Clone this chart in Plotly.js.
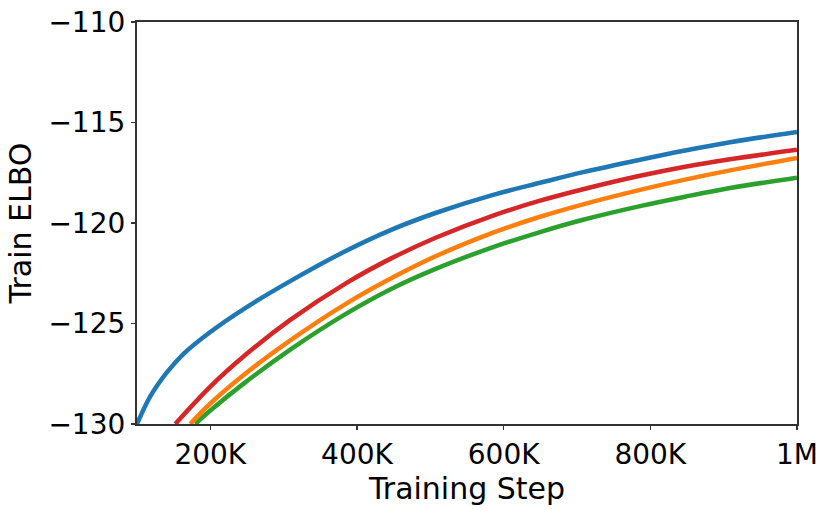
<!DOCTYPE html>
<html><head><meta charset="utf-8">
<script src="https://cdn.plot.ly/plotly-3.0.1.min.js"></script>
<style>html,body{margin:0;padding:0;background:#fff;}#chart{width:831px;height:509px;}</style>
</head><body><div id="chart"></div>
<script>
// Training step (thousands) and Train ELBO values
const blueX = [100, 118.1, 139.9, 163.1, 200, 247.6, 309, 385.3, 446.6, 508, 585.6, 649.7, 708.3, 786, 847.4, 908.7, 1000];
const blueY = [-130.0, -128.63, -127.47, -126.52, -125.42, -124.23, -122.89, -121.38, -120.34, -119.49, -118.60, -118.00, -117.47, -116.85, -116.39, -115.98, -115.47];

const redX = [152.2, 200, 247.6, 309, 385.3, 446.6, 508, 585.6, 649.7, 708.3, 786, 847.4, 908.7, 1000];
const redY = [-130.0, -128.14, -126.57, -124.82, -122.99, -121.76, -120.72, -119.63, -118.89, -118.32, -117.65, -117.20, -116.83, -116.36];

const orangeX = [172.6, 200, 247.6, 309, 385.3, 446.6, 508, 585.6, 649.7, 708.3, 786, 847.4, 908.7, 1000];
const orangeY = [-130.0, -128.98, -127.50, -125.84, -124.01, -122.75, -121.64, -120.48, -119.69, -119.07, -118.35, -117.84, -117.38, -116.76];

const greenX = [179.5, 200, 247.6, 309, 385.3, 446.6, 508, 585.6, 649.7, 708.3, 786, 847.4, 908.7, 1000];
const greenY = [-130.0, -129.33, -127.93, -126.30, -124.51, -123.28, -122.27, -121.20, -120.45, -119.84, -119.16, -118.69, -118.26, -117.75];

const xTickVals = [200, 400, 600, 800, 1000];
const xTickText = ['200K', '400K', '600K', '800K', '1M'];
const yTickVals = [-130, -125, -120, -115, -110];

const colors = {blue: '#1f77b4', red: '#d62728', orange: '#ff7f0e', green: '#2ca02c'};

function tr(x, y, c) {
  return {x: x, y: y, type: 'scatter', mode: 'lines',
    line: {color: c, width: 4.5, shape: 'spline', smoothing: 1}, hoverinfo: 'skip'};
}

const data = [
  tr(greenX, greenY, colors.green),
  tr(orangeX, orangeY, colors.orange),
  tr(redX, redY, colors.red),
  tr(blueX, blueY, colors.blue)
];

const axisCol = 'rgb(50,50,50)';
const tickFont = {family: 'DejaVu Sans', size: 28, color: '#000'};
const titleFont = {family: 'DejaVu Sans', size: 30, color: '#000'};

const layout = {
  width: 831, height: 509,
  margin: {l: 136.7, r: 34, t: 22, b: 84.7, pad: 0},
  paper_bgcolor: '#fff', plot_bgcolor: '#fff',
  showlegend: false,
  font: tickFont,
  xaxis: {
    range: [100, 1000], tickvals: xTickVals, ticktext: xTickText,
    showgrid: false, zeroline: false, showline: true, mirror: true,
    linecolor: axisCol, linewidth: 1.6,
    ticks: 'outside', ticklen: 4.5, tickwidth: 1.3, tickcolor: axisCol,
    tickfont: tickFont,
    title: {text: 'Training Step', font: titleFont, standoff: 0}
  },
  yaxis: {
    range: [-130, -110], tickvals: yTickVals,
    showgrid: false, zeroline: false, showline: true, mirror: true,
    linecolor: axisCol, linewidth: 1.6,
    ticks: 'outside', ticklen: 4.5, tickwidth: 1.3, tickcolor: axisCol,
    tickfont: tickFont,
    title: {text: 'Train ELBO', font: titleFont, standoff: 8}
  }
};

Plotly.newPlot('chart', data, layout, {staticPlot: true, displayModeBar: false});
</script></body></html>
